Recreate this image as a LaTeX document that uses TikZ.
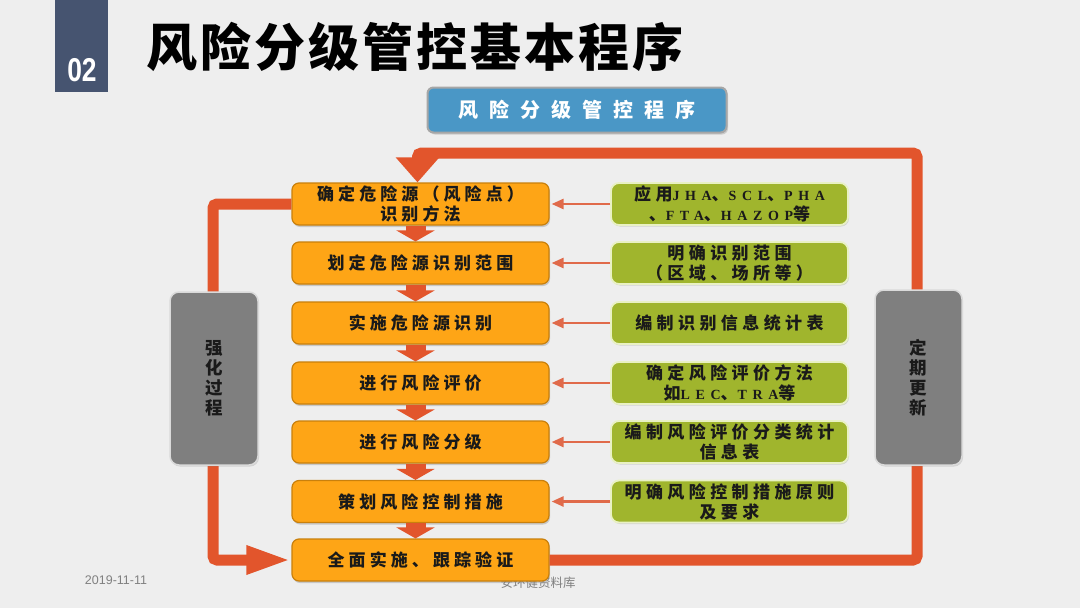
\documentclass[tikz,border=0pt]{standalone}
\usepackage{fontspec}
\setmainfont{Liberation Sans}
\newfontfamily\cjk[LetterSpace=24]{Noto Sans CJK SC}
\newfontfamily\cjkg[LetterSpace=26]{Noto Sans CJK SC}
\newfontfamily\cjktitle[LetterSpace=6]{Noto Sans CJK SC}
\newfontfamily\cjksub[LetterSpace=55]{Noto Sans CJK SC}
\newfontfamily\cjkplain{Noto Sans CJK SC}
\newfontfamily\latserif[LetterSpace=40]{Liberation Serif}
\newcommand\mylat[1]{{\latserif\fontsize{14}{20}\selectfont #1}}
\usetikzlibrary{arrows.meta,shadows,calc}
\definecolor{bgcol}{HTML}{EEEEEE}
\definecolor{navy}{HTML}{465470}
\definecolor{loopcol}{HTML}{E2552C}
\definecolor{ofill}{HTML}{FEA516}
\definecolor{obd}{HTML}{C9800C}
\definecolor{gfill}{HTML}{A0B52D}
\definecolor{gbd}{HTML}{E9F1C4}
\definecolor{grayfill}{HTML}{7F7F7F}
\definecolor{graybd}{HTML}{DADADA}
\definecolor{subfill}{HTML}{4A97C6}
\definecolor{subbd}{HTML}{A6A6A6}
\definecolor{thincol}{HTML}{E06A4A}
\definecolor{txt}{HTML}{1A1A1A}
\begin{document}
\begin{tikzpicture}[x=1pt,y=-1pt,
  obox/.style={draw=obd, fill=ofill, line width=1.2pt, rounded corners=7pt,
    minimum width=257pt, minimum height=42pt, inner sep=0pt, align=center,
    text=txt, font=\cjk\bfseries\fontsize{17}{20}\selectfont,
    drop shadow={shadow xshift=1pt, shadow yshift=-2pt, opacity=0.35}},
  gbox/.style={draw=gbd, fill=gfill, line width=1.8pt, rounded corners=8pt,
    minimum width=237pt, minimum height=42pt, inner sep=0pt, align=center,
    text=txt, font=\cjkg\bfseries\fontsize{17}{20}\selectfont,
    drop shadow={shadow xshift=1pt, shadow yshift=-1.5pt, opacity=0.25}},
  graybox/.style={draw=graybd, fill=grayfill, line width=1.5pt, rounded corners=9pt,
    inner sep=0pt, align=center, text=txt,
    font=\cjkplain\bfseries\fontsize{17.5}{20}\selectfont,
    drop shadow={shadow xshift=1pt, shadow yshift=-1.5pt, opacity=0.25}},
  loopline/.style={draw=loopcol, line width=11pt, rounded corners=4pt},
  downarr/.style={draw=loopcol, line width=20pt, -{Triangle[width=38pt,length=11pt]}},
  thinarr/.style={draw=thincol, line width=2.5pt, shorten >=2pt,
    -{Triangle[width=10pt,length=12pt]}},
  foot/.style={text=black!50, inner sep=0pt}]
\useasboundingbox (0,0) rectangle (1080,608);
\fill[bgcol] (0,0) rectangle (1080,608);

% header
\node[fill=navy, minimum width=53pt, minimum height=92pt, inner sep=0pt] (numbox) at (81.5,46) {};
\node[text=white, inner sep=0pt] (num) at (82,70) {\bfseries\fontsize{33}{33}\selectfont\scalebox{0.8}[1]{02}};
\node[anchor=west, inner sep=0pt, text=black] (title) at (146,47)
  {\cjktitle\bfseries\fontsize{51}{51}\selectfont 风险分级管控基本程序};
\node[draw=subbd, fill=subfill, line width=2pt, rounded corners=6pt,
  minimum width=299pt, minimum height=45pt, inner sep=0pt, text=white,
  drop shadow={shadow xshift=1.5pt, shadow yshift=-2pt, opacity=0.3}] (sub) at (577,110)
  {\cjksub\bfseries\fontsize{20}{20}\selectfont 风险分级管控程序};

% footer
\node[foot, font=\fontsize{12.5}{12.5}\selectfont] (date) at (116,580) {2019-11-11};
\node[foot, font=\cjkplain\fontsize{12.5}{12.5}\selectfont] (src) at (538,583) {安环健资料库};

% main boxes
\node[obox] (o1) at (420.5,204) {确定危险源（风险点）\\识别方法};
\node[obox] (o2) at (420.5,263) {划定危险源识别范围};
\node[obox] (o3) at (420.5,323) {实施危险源识别};
\node[obox] (o4) at (420.5,383) {进行风险评价};
\node[obox] (o5) at (420.5,442) {进行风险分级};
\node[obox] (o6) at (420.5,501.5) {策划风险控制措施};
\node[obox] (o7) at (420.5,560) {全面实施、跟踪验证};

\node[gbox] (g1) at (729.5,204) {应用\mylat{JHA}、\mylat{SCL}、\mylat{PHA}\\、\mylat{FTA}、\mylat{HAZOP}等};
\node[gbox] (g2) at (729.5,263) {明确识别范围\\（区域、场所等）};
\node[gbox] (g3) at (729.5,323) {编制识别信息统计表};
\node[gbox] (g4) at (729.5,383) {确定风险评价方法\\如\mylat{LEC}、\mylat{TRA}等};
\node[gbox] (g5) at (729.5,442) {编制风险评价分类统计\\信息表};
\node[gbox] (g6) at (729.5,501.5) {明确风险控制措施原则\\及要求};

% loops
\coordinate (rc) at (917,153);
\coordinate (lc) at (213,560);
\draw[loopline, -{Triangle[width=42pt,length=25pt]}] (o7.east) -| (rc) -| ($(o1.north)+(-3,0)$);
\draw[loopline, -{Triangle[width=26pt,length=45pt]}] (o1.west) -| (lc) -- (o7.west);

\node[graybox, minimum width=88pt, minimum height=173pt] (left) at (214,378.5) {强\\化\\过\\程};
\node[graybox, minimum width=87pt, minimum height=175pt] (right) at (918.5,377.5) {定\\期\\更\\新};

% down arrows
\foreach \a/\b in {o1/o2,o2/o3,o3/o4,o4/o5,o5/o6,o6/o7}
  \draw[downarr] ($(\a.south)+(-5,0)$) -- ($(\b.north)+(-5,0)$);

% thin arrows
\foreach \i in {1,...,6}
  \draw[thinarr] (g\i.west) -- (o\i.east);
\end{tikzpicture}
\end{document}
